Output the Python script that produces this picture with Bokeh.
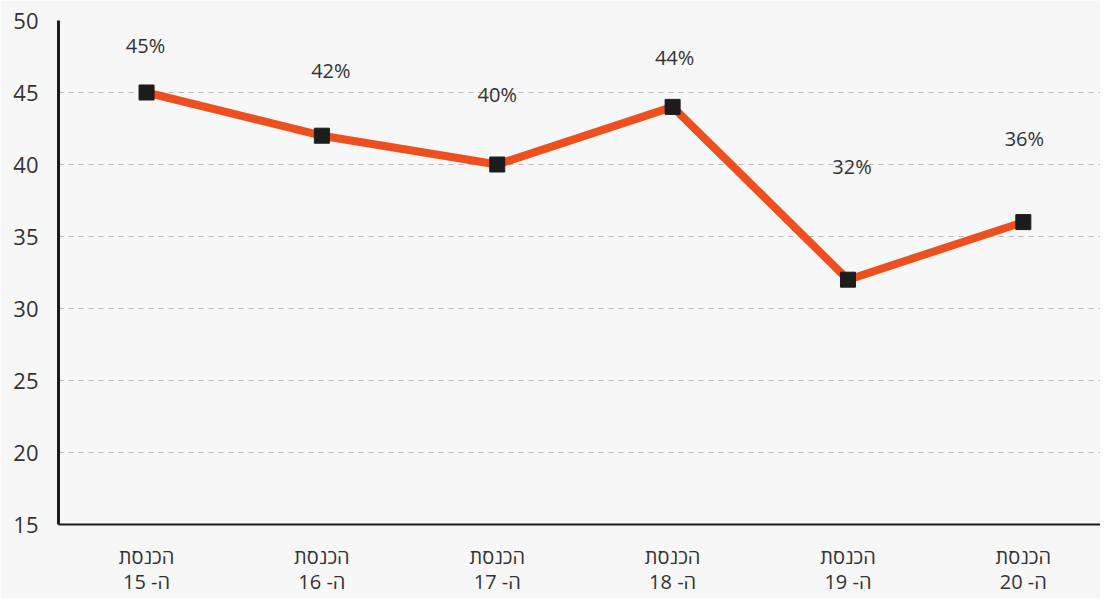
from bokeh.plotting import figure
from bokeh.models import ColumnDataSource, FixedTicker, Range1d, LabelSet
from bokeh.core.properties import value
from bokeh.embed import file_html
from bokeh.resources import INLINE

categories = ["הכנסת\nה- 15", "הכנסת\nה- 16", "הכנסת\nה- 17",
              "הכנסת\nה- 18", "הכנסת\nה- 19", "הכנסת\nה- 20"]
values = [45, 42, 40, 44, 32, 36]
value_labels = ["45%", "42%", "40%", "44%", "32%", "36%"]
y_ticks = [15, 20, 25, 30, 35, 40, 45, 50]

# label placement offsets (pixels)
label_dx = [-1, 9, 0, 2, 4, 1]
label_dy = [47, 65, 70, 49, 113, 84]

xs = list(range(len(categories)))
src = ColumnDataSource(dict(x=xs, y=values, lab=value_labels, dx=label_dx, dy=label_dy))

BG = "#f7f7f7"
FONT = "Open Sans"

p = figure(width=1100, height=598, output_backend="svg", toolbar_location=None,
           x_range=Range1d(-0.502, 5.44), y_range=Range1d(15, 50),
           background_fill_color=BG, border_fill_color=BG,
           min_border_left=58, min_border_right=0, min_border_top=20, min_border_bottom=57)
p.outline_line_color = None

p.line("x", "y", source=src, line_color="#ee4f1e", line_width=8)
p.scatter("x", "y", source=src, marker="square", size=15, fill_color="#1c1c1c", line_color="#1c1c1c")

labels = LabelSet(x="x", y="y", text="lab", source=src, x_offset="dx", y_offset="dy",
                  text_align="center", text_baseline="middle", text_font=value(FONT),
                  text_font_size="20px", text_color="#333333")
p.add_layout(labels)

p.yaxis.ticker = FixedTicker(ticks=y_ticks)
p.xaxis.ticker = FixedTicker(ticks=xs)
p.xaxis.major_label_overrides = {i: c for i, c in enumerate(categories)}

for ax in (p.xaxis[0], p.yaxis[0]):
    ax.major_tick_line_color = None
    ax.minor_tick_line_color = None
    ax.axis_line_color = "#1c1c1c"
    ax.axis_line_width = 3
    ax.major_label_text_font = FONT
    ax.major_label_text_color = "#333333"

p.yaxis.major_label_text_font_size = "22px"
p.yaxis.major_label_standoff = 14
p.xaxis.major_label_text_font_size = "20px"
p.xaxis.major_label_text_line_height = 0.95
p.xaxis.major_label_standoff = 12
p.xaxis.axis_line_width = 2

p.xgrid.grid_line_color = None
p.ygrid.grid_line_color = "#b8b8b8"
p.ygrid.grid_line_dash = "5 5"
p.ygrid.grid_line_width = 1

open("out.html", "w").write(file_html(p, INLINE))
